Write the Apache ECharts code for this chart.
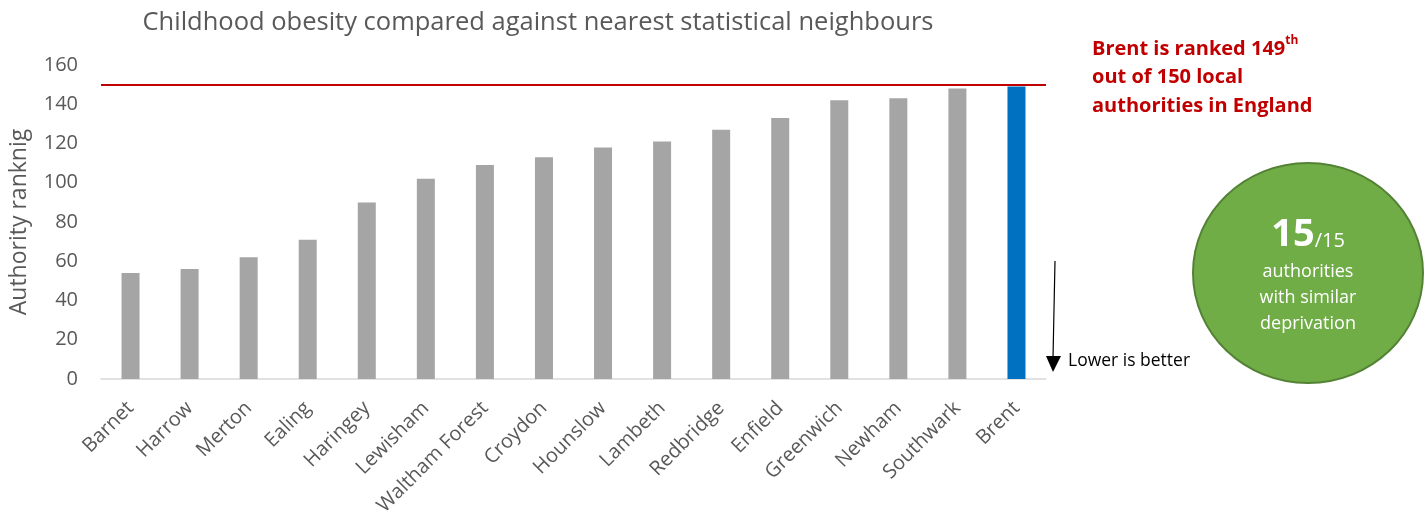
<!DOCTYPE html>
<html>
<head>
    <meta charset="UTF-8">
    <script src="https://cdn.jsdelivr.net/npm/echarts@6/dist/echarts.min.js"></script>
    <title>Childhood obesity</title>
</head>
<body style="margin:0;background:#fff;">
<div id="chart" style="width:1427px;height:525px;"></div>
<script>
    // authorities and their ranking
    var authorities = ['Barnet', 'Harrow', 'Merton', 'Ealing', 'Haringey', 'Lewisham', 'Waltham Forest',
        'Croydon', 'Hounslow', 'Lambeth', 'Redbridge', 'Enfield', 'Greenwich', 'Newham', 'Southwark', 'Brent'];
    var rankings = [54, 56, 62, 71, 90, 102, 109, 113, 118, 121, 127, 133, 142, 143, 148, 149];
    var highlight = 'Brent';
    var totalAuthorities = [150];
    var yTicks = [0, 160, 20];

    var font = '"Open Sans", "Noto Sans", sans-serif';

    var barData = authorities.map(function (name, i) {
        return {
            value: rankings[i],
            itemStyle: {color: name === highlight ? '#0070c0' : '#a5a5a5'}
        };
    });

    var chart = echarts.init(document.getElementById('chart'));
    chart.setOption({
        animation: false,
        title: {
            text: 'Childhood obesity compared against nearest statistical neighbours',
            left: 533,
            textAlign: 'center',
            top: 5,
            textStyle: {color: '#595959', fontSize: 25.5, fontWeight: 'normal', fontFamily: font}
        },
        grid: {left: 100, right: 381, top: 65, bottom: 146},
        xAxis: {
            type: 'category',
            data: authorities,
            axisLine: {lineStyle: {color: '#d9d9d9', width: 1.5}},
            axisTick: {show: false},
            axisLabel: {
                rotate: 45, color: '#595959', fontSize: 20, fontFamily: font,
                margin: 26, interval: 0
            }
        },
        yAxis: {
            type: 'value',
            min: yTicks[0], max: yTicks[1], interval: yTicks[2],
            name: 'Authority ranknig',
            nameLocation: 'middle',
            nameGap: 70,
            nameTextStyle: {color: '#595959', fontSize: 23, fontFamily: font},
            splitLine: {show: false},
            axisLine: {show: false},
            axisTick: {show: false},
            axisLabel: {color: '#595959', fontSize: 20, fontFamily: font, margin: 23}
        },
        series: [{
            type: 'bar',
            data: barData,
            barWidth: 18,
            markLine: {
                silent: true,
                symbol: 'none',
                label: {show: false},
                lineStyle: {color: '#c00000', width: 2, type: 'solid'},
                data: [{yAxis: totalAuthorities[0]}]
            }
        }],
        graphic: [
            {
                type: 'text', left: 1092, top: 35,
                style: {
                    text: '{a|Brent is ranked 149}{s|th}\n{a|out of 150 local}\n{a|authorities in England}',
                    rich: {
                        a: {fontSize: 20, fontWeight: 'bold', fill: '#c00000', fontFamily: font, lineHeight: 28.5},
                        s: {fontSize: 12, fontWeight: 'bold', fill: '#c00000', fontFamily: font, verticalAlign: 'top', lineHeight: 28.5, padding: [0, 0, 10, 0]}
                    }
                }
            },
            {
                type: 'ellipse',
                shape: {cx: 1308, cy: 273, rx: 115, ry: 110},
                style: {fill: '#70ad47', stroke: '#548235', lineWidth: 2}
            },
            {
                type: 'text', x: 1308, y: 235,
                style: {
                    text: '{b|15}{c|/15}',
                    align: 'center', verticalAlign: 'middle',
                    rich: {
                        b: {fontSize: 38, fontWeight: 'bold', fill: '#fff', fontFamily: font},
                        c: {fontSize: 20, fill: '#fff', fontFamily: font, padding: [12, 0, 0, 0]}
                    }
                }
            },
            {
                type: 'text', x: 1308, y: 298,
                style: {
                    text: 'authorities\nwith similar\ndeprivation',
                    align: 'center', verticalAlign: 'middle',
                    fontSize: 18, lineHeight: 26, fill: '#fff', fontFamily: font
                }
            },
            {
                type: 'line',
                shape: {x1: 1055, y1: 261, x2: 1053, y2: 358},
                style: {stroke: '#000', lineWidth: 1.2}
            },
            {
                type: 'polygon',
                shape: {points: [[1046, 356], [1061, 356], [1053, 372]]},
                style: {fill: '#000'}
            },
            {
                type: 'text', x: 1068, y: 361,
                style: {text: 'Lower is better', fontSize: 17.5, fill: '#000', fontFamily: font, verticalAlign: 'middle'}
            }
        ]
    });
</script>
</body>
</html>
